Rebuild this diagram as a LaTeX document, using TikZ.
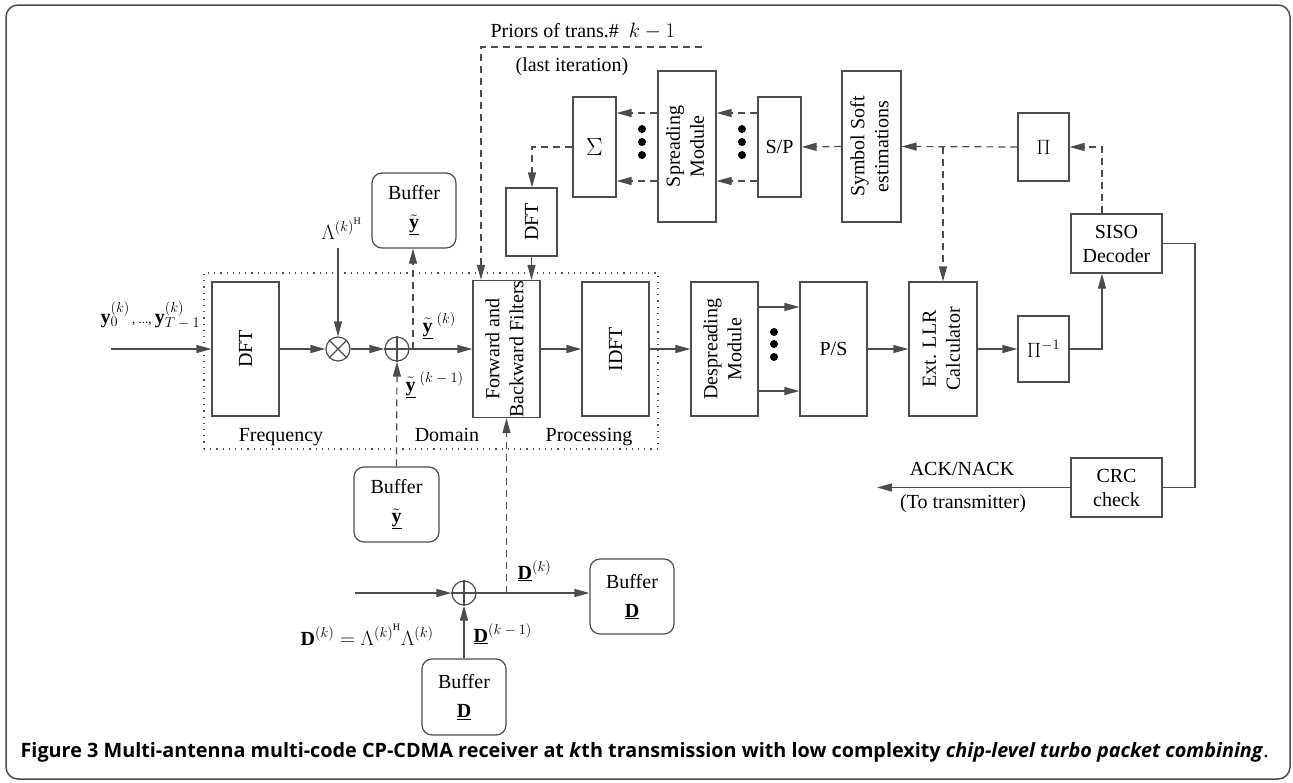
\documentclass[tikz,border=0pt]{standalone}
\usepackage{fontspec}
\setmainfont{Liberation Serif}
\newfontfamily\capfont{Open Sans}
\usetikzlibrary{arrows.meta,calc}
\definecolor{lc}{gray}{0.3}
\newcommand\myss[1]{\hbox{\fontsize{14pt}{16pt}\selectfont$#1$}}
\begin{document}
\begin{tikzpicture}[x=1pt,y=-1pt,line width=1.2pt,
  font=\fontsize{20pt}{24pt}\selectfont,
  blk/.style={draw=lc,inner sep=0pt,align=center},
  buf/.style={blk,rounded corners=10pt},
  arr/.style={-{Triangle[length=15pt,width=8pt]}},
  dsh/.style={dash pattern=on 7pt off 5pt},
  lab/.style={inner sep=0pt},
  con/.style={draw=lc},
  dotc/.style={fill=black}]
\useasboundingbox (0,0) rectangle (1293,782);
\draw[lc,line width=1.5pt,rounded corners=12pt] (6,5) rectangle (1290,779);

% dotted frequency-domain frame
\node[draw=lc,dash pattern=on 1.2pt off 5pt,minimum width=454pt,minimum height=176pt,inner sep=0pt] (fdp) at (431,361) {};
\node[lab,anchor=base] (tfreq) at (281,441) {Frequency};
\node[lab,anchor=base] (tdom) at (447,441) {Domain};
\node[lab,anchor=base] (tproc) at (589,441) {Processing};

% main row blocks
\node[blk,minimum width=67pt,minimum height=134pt] (dft1) at (245.5,349) {\rotatebox{90}{DFT}};
\node[blk,minimum width=67pt,minimum height=134pt] (fbf) at (506.5,349) {\rotatebox{90}{\begin{tabular}{@{}c@{}}Forward and\\Backward Filters\end{tabular}}};
\node[blk,minimum width=67pt,minimum height=134pt] (idft) at (615.5,349) {\rotatebox{90}{IDFT}};
\node[blk,minimum width=67pt,minimum height=134pt] (desp) at (724.5,349) {\rotatebox{90}{\begin{tabular}{@{}c@{}}Despreading\\Module\end{tabular}}};
\node[blk,minimum width=67pt,minimum height=134pt] (ps) at (833.5,349) {P/S};
\node[blk,minimum width=68pt,minimum height=134pt] (ext) at (943,349) {\rotatebox{90}{\begin{tabular}{@{}c@{}}Ext. LLR\\Calculator\end{tabular}}};
\node[blk,minimum width=51pt,minimum height=66pt] (pinv) at (1043.5,349) {$\Pi^{\myss{-1}}$};
\node[blk,minimum width=91pt,minimum height=59pt] (siso) at (1116.5,243.5) {SISO\\Decoder};
\node[blk,minimum width=91pt,minimum height=59pt] (crc) at (1116.5,487.5) {CRC\\check};

% top row blocks
\node[blk,minimum width=51pt,minimum height=68pt] (pi) at (1043.5,147) {$\Pi$};
\node[blk,minimum width=59pt,minimum height=151pt] (sse) at (871.5,146.5) {\rotatebox{90}{\begin{tabular}{@{}c@{}}Symbol Soft\\estimations\end{tabular}}};
\node[blk,minimum width=43pt,minimum height=100pt] (sp) at (779.5,147) {S/P};
\node[blk,minimum width=58pt,minimum height=151pt] (spread) at (687,146.5) {\rotatebox{90}{\begin{tabular}{@{}c@{}}Spreading\\Module\end{tabular}}};
\node[blk,minimum width=43pt,minimum height=100pt] (sigma) at (594.5,147) {\fontsize{28pt}{30pt}\selectfont$\Sigma$};
\node[blk,minimum width=51pt,minimum height=68pt] (dft2) at (531.5,222) {\rotatebox{90}{DFT}};

% buffers
\node[buf,minimum width=84pt,minimum height=75pt] (buf1) at (414,210.5) {Buffer\\[5pt]$\underline{\tilde{\mathbf{y}}}$};
\node[buf,minimum width=85pt,minimum height=75pt] (buf2) at (396.5,504.5) {Buffer\\[5pt]$\underline{\tilde{\mathbf{y}}}$};
\node[buf,minimum width=84pt,minimum height=75pt] (bufd1) at (632,596.5) {Buffer\\[5pt]$\underline{\mathbf{D}}$};
\node[buf,minimum width=84pt,minimum height=76pt] (bufd2) at (464,697) {Buffer\\[5pt]$\underline{\mathbf{D}}$};

% operators
\node[draw=lc,circle,minimum size=24pt,inner sep=0pt] (otimes) at (338,349) {};
\draw[lc] (otimes.north west) -- (otimes.south east) (otimes.north east) -- (otimes.south west);
\node[draw=lc,circle,minimum size=24pt,inner sep=0pt] (oplus1) at (397,349) {};
\draw[lc] (oplus1.north) -- (oplus1.south) (oplus1.west) -- (oplus1.east);
\node[draw=lc,circle,minimum size=24pt,inner sep=0pt] (oplus2) at (464,593) {};
\draw[lc] (oplus2.north) -- (oplus2.south) (oplus2.west) -- (oplus2.east);

% helper coordinates
\coordinate (cin) at (111,349);
\coordinate (clam) at (338,248);
\coordinate (cbr) at (413,349);
\coordinate (cr1) at (0,307);
\coordinate (cr2) at (0,391);
\coordinate (cx) at (1102,0);
\coordinate (rx) at (1195,0);
\coordinate (cack) at (877,0);
\coordinate (ct1) at (0,113);
\coordinate (ct2) at (0,181);
\coordinate (cbr2) at (943,147);
\coordinate (cdl) at (532,147);
\coordinate (cp0) at (481,47);
\coordinate (cp1) at (702,47);
\coordinate (cdin) at (355,593);

% solid connectors
\draw[con,arr] (cin) -- (dft1.west);
\draw[con,arr] (dft1.east) -- (otimes.west);
\draw[con,arr] (clam) -- (otimes.north);
\draw[con,arr] (otimes.east) -- (oplus1.west);
\draw[con,arr] (oplus1.east) -- (fbf.west);
\draw[con,arr] (fbf.east) -- (idft.west);
\draw[con,arr] (idft.east) -- (desp.west);
\draw[con,arr] (desp.east |- cr1) -- (ps.west |- cr1);
\draw[con,arr] (desp.east |- cr2) -- (ps.west |- cr2);
\draw[con,arr] (ps.east) -- (ext.west);
\draw[con,arr] (ext.east) -- (pinv.west);
\draw[con,arr] (pinv.east) -| (cx |- siso.south);
\draw[con] (siso.east) -- (rx |- siso.east) |- (crc.east);
\draw[con,arr] (crc.west) -- (cack |- crc.west);
\draw[con,arr] (dft2.south) -- (dft2.south |- fbf.north);
\draw[con,arr] (cdin) -- (oplus2.west);
\draw[con,arr] (oplus2.east) -- (bufd1.west |- oplus2.east);
\draw[con,arr] (bufd2.north) -- (oplus2.south);

% dashed connectors
\draw[con,dsh,arr] (cbr) -- (cbr |- buf1.south);
\draw[con,dsh,arr] (buf2.north) -- (oplus1.south);
\draw[con,dsh,arr] (fbf.south |- oplus2.east) -- (fbf.south);
\draw[con,dsh,arr] (cx |- siso.north) |- (pi.east);
\draw[con,dsh,arr] (pi.west) -- (sse.east);
\draw[con,dsh,arr] (cbr2) -- (ext.north);
\draw[con,dsh,arr] (sse.west) -- (sp.east);
\draw[con,dsh,arr] (sp.west |- ct1) -- (spread.east |- ct1);
\draw[con,dsh,arr] (sp.west |- ct2) -- (spread.east |- ct2);
\draw[con,dsh,arr] (spread.west |- ct1) -- (sigma.east |- ct1);
\draw[con,dsh,arr] (spread.west |- ct2) -- (sigma.east |- ct2);
\draw[con,dsh,arr] (sigma.west) -- (cdl) -- (cdl |- dft2.north);
\draw[con,dsh,arr] (cp1) -- (cp0) -- (cp0 |- fbf.north);

% dots
\foreach \yy in {129,142,155} {\fill (642,\yy) circle (4pt); \fill (742,\yy) circle (4pt);}
\foreach \yy in {332,344,357} {\fill (774,\yy) circle (4pt);}

% labels
\node[lab,anchor=base west] (lin) at (100,323) {$\mathbf{y}^{\myss{(k)}}_{\myss{0}}${\fontsize{13pt}{14pt}\selectfont\,, ..., }$\mathbf{y}^{\myss{(k)}}_{\myss{T-1}}$};
\node[lab,anchor=base west] (llam) at (321,239) {$\Lambda^{\myss{(k)}^{\mathrm{H}}}$};
\node[lab,anchor=base west] (ly1) at (422,332) {$\underline{\tilde{\mathbf{y}}}^{\;\myss{(k)}}$};
\node[lab,anchor=base west] (ly2) at (405,391) {$\underline{\tilde{\mathbf{y}}}^{\;\myss{(k-1)}}$};
\node[lab,anchor=base west] (ld1) at (517,579) {$\underline{\mathbf{D}}^{\myss{(k)}}$};
\node[lab,anchor=base west] (ld2) at (473,642) {$\underline{\mathbf{D}}^{\myss{(k-1)}}$};
\node[lab,anchor=base west] (leq) at (300,645) {$\mathbf{D}^{\myss{(k)}}=\Lambda^{\myss{(k)}^{\mathrm{H}}}\Lambda^{\myss{(k)}}$};
\node[lab,anchor=base west] (lpri) at (490,37) {Priors of trans.\#\ \ $k-1$};
\node[lab,anchor=base west] (llast) at (515,71) {(last iteration)};
\node[lab,anchor=base] (lack) at (962,475) {ACK/NACK};
\node[lab,anchor=base] (lto) at (963,508) {(To transmitter)};

% caption
\node[lab,anchor=base west] (cap) at (20,757) {\resizebox{1248pt}{!}{\capfont\fontsize{16pt}{18pt}\selectfont\textbf{Figure 3 Multi-antenna multi-code CP-CDMA receiver at \textit{k}th transmission with low complexity \textit{chip-level turbo packet combining}}.}};
\end{tikzpicture}
\end{document}
